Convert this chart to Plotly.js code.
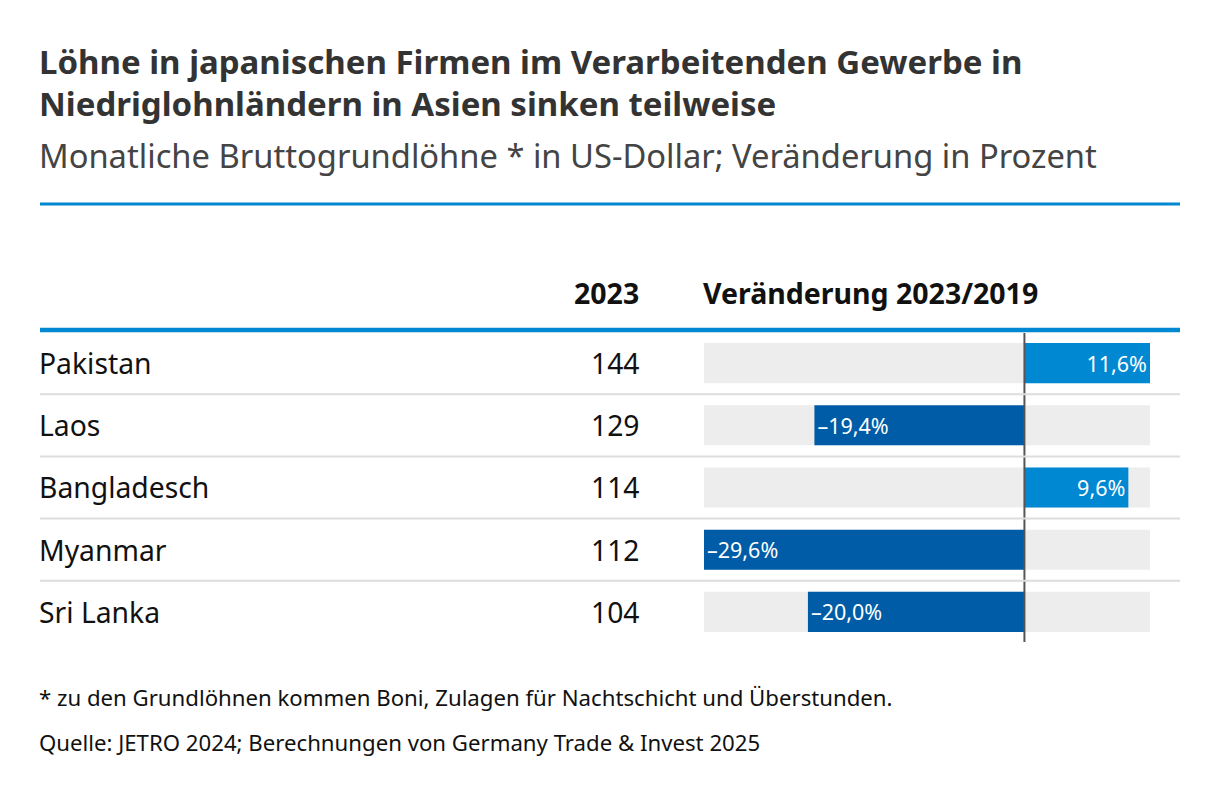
<!DOCTYPE html>
<html>
<head>
<meta charset="utf-8">
<script src="https://cdn.plot.ly/plotly-3.0.1.min.js"></script>
<style>
html,body{margin:0;padding:0;background:#fff;}
#chart{width:1220px;height:796px;}
</style>
</head>
<body>
<div id="chart"></div>
<script>
const countries = ['Pakistan', 'Laos', 'Bangladesch', 'Myanmar', 'Sri Lanka'];
const wages2023 = [144, 129, 114, 112, 104];
const change = [11.6, -19.4, 9.6, -29.6, -20.0];

const titleLine1 = 'Löhne in japanischen Firmen im Verarbeitenden Gewerbe in';
const titleLine2 = 'Niedriglohnländern in Asien sinken teilweise';
const subtitle = 'Monatliche Bruttogrundlöhne * in US-Dollar; Veränderung in Prozent';
const colHead1 = '2023';
const colHead2 = 'Veränderung 2023/2019';
const footnote = '* zu den Grundlöhnen kommen Boni, Zulagen für Nachtschicht und Überstunden.';
const source = 'Quelle: JETRO 2024; Berechnungen von Germany Trade & Invest 2025';

const W = 1220, H = 796;
const px = v => v / W;
const py = v => 1 - v / H;
const FONT = 'Noto Sans, Open Sans, sans-serif';

const minC = Math.min(...change), maxC = Math.max(...change);
const fmt = v => (v < 0 ? '–' : '') + Math.abs(v).toFixed(1).replace('.', ',') + '%';

const bgTrace = {
  type: 'bar', orientation: 'h',
  y: countries, x: countries.map(() => maxC - minC), base: countries.map(() => minC),
  marker: {color: '#ededed'}, width: 0.645, hoverinfo: 'skip', showlegend: false
};
const barTrace = {
  type: 'bar', orientation: 'h',
  y: countries, x: change,
  marker: {color: change.map(v => v >= 0 ? '#0089d2' : '#005ca6')},
  width: 0.645,
  text: change.map(fmt), textposition: 'inside', insidetextanchor: 'end',
  textangle: 0, constraintext: 'none',
  insidetextfont: {family: FONT, size: 21.5, color: '#ffffff'},
  hoverinfo: 'skip', showlegend: false
};

const annotations = [];
const addText = (text, x, y, size, opts = {}) => annotations.push(Object.assign({
  text, x, y, xref: 'paper', yref: 'paper', showarrow: false,
  xanchor: 'left', yanchor: 'middle',
  font: {family: FONT, size, color: '#111'}
}, opts));

addText('<b>' + titleLine1 + '</b>', px(37), py(62), 33, {font: {family: FONT, size: 33, color: '#333'}});
addText('<b>' + titleLine2 + '</b>', px(37), py(103), 33, {font: {family: FONT, size: 33, color: '#333'}});
addText(subtitle, px(37), py(155), 32.7, {font: {family: FONT, size: 32.7, color: '#444'}});
addText('<b>' + colHead1 + '</b>', px(641), py(293), 28.5, {xanchor: 'right'});
addText('<b>' + colHead2 + '</b>', px(701), py(293), 28.5);
addText(footnote, px(37), py(697), 22.2);
addText(source, px(37), py(742), 22.2);

countries.forEach((c, i) => {
  annotations.push({text: c, x: px(37), y: c, xref: 'paper', yref: 'y', showarrow: false,
    xanchor: 'left', yanchor: 'middle', font: {family: FONT, size: 28.3, color: '#111'}});
  annotations.push({text: String(wages2023[i]), x: px(642), y: c, xref: 'paper', yref: 'y', showarrow: false,
    xanchor: 'right', yanchor: 'middle', font: {family: FONT, size: 28.3, color: '#111'}});
});

const shapes = [
  {type: 'line', xref: 'paper', yref: 'paper', x0: px(40), x1: px(1180), y0: py(204), y1: py(204),
    line: {color: '#0089d2', width: 3}},
  {type: 'line', xref: 'paper', yref: 'paper', x0: px(40), x1: px(1180), y0: py(330), y1: py(330),
    line: {color: '#0089d2', width: 4.5}},
  {type: 'line', xref: 'x', yref: 'paper', x0: 0, x1: 0, y0: py(333), y1: py(642),
    line: {color: '#555555', width: 2}, layer: 'above'}
];
for (let i = 0; i < countries.length - 1; i++) {
  shapes.push({type: 'line', xref: 'paper', yref: 'y', x0: px(40), x1: px(1180), y0: i + 0.5, y1: i + 0.5,
    line: {color: '#dddddd', width: 2}});
}

const layout = {
  width: W, height: H, margin: {l: 0, r: 0, t: 0, b: 0},
  paper_bgcolor: '#ffffff', plot_bgcolor: 'rgba(0,0,0,0)',
  barmode: 'overlay', showlegend: false,
  font: {family: FONT},
  xaxis: {domain: [px(704), px(1150)], range: [minC, maxC], visible: false, fixedrange: true},
  yaxis: {domain: [py(643), py(332)], type: 'category', categoryarray: countries,
    range: [countries.length - 0.5, -0.5], visible: false, fixedrange: true},
  annotations, shapes
};

Plotly.newPlot('chart', [bgTrace, barTrace], layout, {displayModeBar: false, staticPlot: true});
</script>
</body>
</html>
